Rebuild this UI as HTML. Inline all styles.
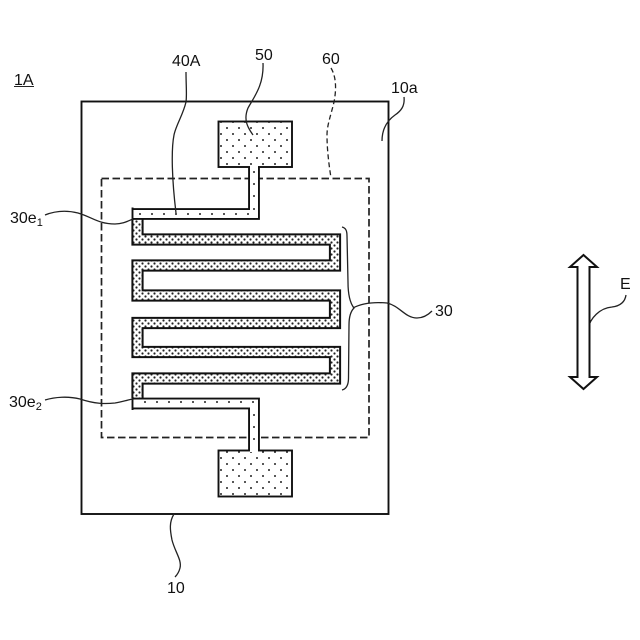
<!DOCTYPE html>
<html>
<head>
<meta charset="utf-8">
<style>
html,body{margin:0;padding:0;background:#fff;width:640px;height:640px;overflow:hidden}
svg{display:block}
text{font-family:"Liberation Sans","Noto Sans CJK JP",sans-serif;font-size:16px;fill:#111}
.l{fill:none;stroke:#222;stroke-width:1.3}
</style>
</head>
<body>
<svg width="640" height="640" viewBox="0 0 640 640" xmlns="http://www.w3.org/2000/svg">
<defs>
<pattern id="dense" width="6" height="6" patternUnits="userSpaceOnUse" x="0" y="1">
<rect width="6" height="6" fill="#fff"/>
<circle cx="1.5" cy="1.5" r="1.1" fill="#222"/>
<circle cx="4.5" cy="4.5" r="1.1" fill="#222"/>
</pattern>
<pattern id="sparse" width="12" height="12" patternUnits="userSpaceOnUse" x="2" y="-1">
<rect width="12" height="12" fill="#fff"/>
<circle cx="3" cy="3" r="1" fill="#222"/>
<circle cx="9" cy="9" r="1" fill="#222"/>
</pattern>
</defs>

<rect x="81.5" y="101.5" width="307" height="412.5" fill="#fff" stroke="#111" stroke-width="1.9"/>
<rect x="101.5" y="178.5" width="267.5" height="259" fill="none" stroke="#222" stroke-width="1.7" stroke-dasharray="7.5 3.5"/>

<!-- serpentine -->
<path d="M137.5 219 V239.5 H335 V265.5 H137.5 V295.5 H335 V323 H137.5 V352 H335 V378.5 H137.5 V398" fill="none" stroke="#111" stroke-width="12.2" stroke-linejoin="miter"/>
<path d="M137.5 219 V239.5 H335 V265.5 H137.5 V295.5 H335 V323 H137.5 V352 H335 V378.5 H137.5 V398" fill="none" stroke="url(#dense)" stroke-width="8.2" stroke-linejoin="miter"/>

<!-- top wire -->
<path d="M254 166 V214 H132" fill="none" stroke="#111" stroke-width="11.8"/>
<path d="M132 214 H254 V166" fill="none" stroke="#fff" stroke-width="8"/>
<path d="M133.500 208.500 H132.500 V219.500 H133.500" fill="none" stroke="#111" stroke-width="1.9"/>
<!-- bottom wire -->
<path d="M254 451 V403.500 H132" fill="none" stroke="#111" stroke-width="11.800"/>
<path d="M132 403.500 H254 V451" fill="none" stroke="#fff" stroke-width="8"/>
<path d="M133.500 398 H132.500 V409 H133.500" fill="none" stroke="#111" stroke-width="1.9"/>

<!-- wire dots -->
<g fill="#222">
<circle cx="140" cy="214" r="1"/><circle cx="152" cy="214" r="1"/><circle cx="164" cy="214" r="1"/><circle cx="176" cy="214" r="1"/><circle cx="188" cy="214" r="1"/><circle cx="200" cy="214" r="1"/><circle cx="212" cy="214" r="1"/><circle cx="224" cy="214" r="1"/><circle cx="236" cy="214" r="1"/><circle cx="248" cy="214" r="1"/>
<circle cx="254" cy="172" r="1"/><circle cx="254" cy="184" r="1"/><circle cx="254" cy="196" r="1"/><circle cx="254" cy="209" r="1"/>
<circle cx="145" cy="402" r="1"/><circle cx="157" cy="402" r="1"/><circle cx="169" cy="402" r="1"/><circle cx="181" cy="402" r="1"/><circle cx="193" cy="402" r="1"/><circle cx="205" cy="402" r="1"/><circle cx="217" cy="402" r="1"/><circle cx="229" cy="402" r="1"/><circle cx="241" cy="402" r="1"/><circle cx="253" cy="402" r="1"/>
<circle cx="254" cy="415" r="1"/><circle cx="254" cy="427" r="1"/><circle cx="254" cy="439" r="1"/>
</g>

<!-- pads -->
<rect x="218.500" y="121.500" width="73.500" height="45.500" fill="url(#sparse)" stroke="#111" stroke-width="1.900"/>
<rect x="218.500" y="450.500" width="73.500" height="46" fill="url(#sparse)" stroke="#111" stroke-width="1.900"/>
<rect x="250" y="165.500" width="8" height="3" fill="#fff"/>
<rect x="250" y="449" width="8" height="3" fill="#fff"/>

<!-- leaders -->
<path class="l" d="M186 72 C186 85 187 95 186 102 C183 115 176 125 174 135 C171 150 172 180 176 213"/>
<path class="l" d="M263 63 C264 85 254 97 248 108 C243 120 248 128 253 135"/>
<path class="l" stroke-dasharray="5 3" d="M331 68 C337 78 336 92 334 102 C331 115 327 125 327 135 C327 150 329 165 331 178"/>
<path class="l" d="M404 97 C405 106 401 111 395 115 C388 120 382 128 382 141"/>
<path class="l" d="M45 215 C55 211 66 210 78 213 C92 217 98 224 115 224 C123 224 128 221 133 219"/>
<path class="l" d="M45 400 C55 397 68 396 80 399 C95 404 105 404 115 403 C122 402 127 400 133 399"/>
<path class="l" d="M174 514 C169 522 170 530 172 540 C175 552 182 560 180 568 C179 572 177 575 175 577"/>
<path class="l" d="M342 227 C346 228 347 231 347 236 L348 282 C348 294 350 303 354 308 C350 312 349 318 349 325 L348.500 378 C348.500 385 346 389 342 390"/>
<path class="l" d="M353 308 C362 303 375 302 387 303 C400 306 405 318 417 318 C424 318 429 314 432 311"/>
<path class="l" d="M626 295 C625 302 620 306 612 307 C600 308 590 318 588 329"/>

<!-- arrow -->
<polygon points="583.500,255 597,267 589.500,267 589.500,377 597,377 583.500,389 570,377 577.500,377 577.500,267 570,267" fill="#fff" stroke="#111" stroke-width="2"/>

<!-- labels -->
<text x="14" y="85">1A</text>
<line x1="14" y1="86.500" x2="34" y2="86.500" stroke="#222" stroke-width="1"/>
<text x="172" y="66">40A</text>
<text x="255" y="60">50</text>
<text x="322" y="64">60</text>
<text x="391" y="93">10a</text>
<text x="10" y="223">30e<tspan dy="3" style="font-size:11px">1</tspan></text>
<text x="9" y="407">30e<tspan dy="3" style="font-size:11px">2</tspan></text>
<text x="167" y="593">10</text>
<text x="435" y="316">30</text>
<text x="620" y="289">E</text>
</svg>
</body>
</html>
